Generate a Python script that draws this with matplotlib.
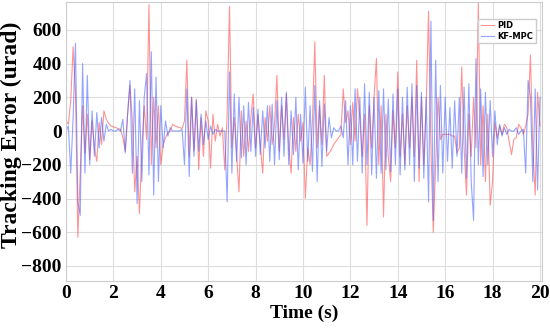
import numpy as np
import matplotlib
matplotlib.use("Agg")
import matplotlib.pyplot as plt
from matplotlib import rcParams

rcParams['font.family'] = 'serif'
rcParams['font.serif'] = ['Liberation Serif', 'DejaVu Serif']

# sampled every 0.1 s, 0..20 s
time_s = np.round(np.arange(0, 20.05, 0.1), 1)

pid = [
    60, 40, 180, 500, 230, -630, -250, 150, -130, 100,
    -170, 60, -100, -180, 50, -80, 120, 70, 45, 30,
    25, 20, 15, 10, -40, -120, 100, 270, 60, -360,
    -150, -490, -100, 150, -50, 750, -200, 200, -100, 150,
    -200, -80, -40, -10, 0, 40, 30, 25, 20, 15,
    60, 420, -150, 200, -120, 190, -230, 80, -150, 120,
    60, -220, 100, -60, 40, -30, 20, -230, 100, 740,
    -100, 80, -150, -360, 120, -150, 60, -120, 80, 220,
    -100, 100, -80, -250, 80, -60, 150, -80, 40, 330,
    -120, 150, -50, 220, -100, -250, 80, -120, 100, -60,
    50, -400, -100, -200, 60, 530, -100, 150, -80, 330,
    -150, -130, -110, -80, -60, -40, -20, 250, 50, 120,
    -80, 170, -60, 250, 80, -150, 100, -560, 150, -100,
    200, 430, -200, 150, -510, 100, -150, -300, 120, -100,
    350, -150, 100, -200, 150, -100, 200, -150, 420, -300,
    200, -200, 150, 710, -100, -600, -200, 200, -50, -20,
    -20, -20, -20, -30, -30, -130, -100, 380, -100, -380,
    100, -150, 200, -100, 760, -200, 150, -300, 100, -440,
    -300, 50, -40, 30, -20, 40, 20, -60, -140, -50,
    -40, 40, 20, -20, 30, 100, 450, -100, -380, 230,
    30,
]

kf_mpc = [
    0, 30, -250, 80, 520, -420, -500, 400, -250, 330,
    -200, 120, -150, 110, -100, 80, -60, 40, 0, 10,
    0, 0, 10, 0, 70, -130, 100, 300, -250, 250,
    -430, 180, -300, 200, 340, -260, 470, -380, 320, -300,
    150, -100, 60, -30, 20, 0, 0, 0, 0, 10,
    -200, 250, -270, 200, -150, 180, -120, 100, -80, 60,
    -50, 30, -20, 10, 0, 0, 0, 0, -420, 350,
    -250, 220, -180, 200, -160, 150, -200, 170, -120, 140,
    -150, 130, -140, 120, -100, 150, -180, 160, -200, 180,
    -170, 200, -150, 230, -200, 120, -140, 200, -230, 100,
    -190, 260, -180, 150, -240, 270, -300, 180, -210, 160,
    -120, 80, -40, 20, 0, 0, 30, -40, 180, -200,
    150, -200, 250, -180, 200, -250, 280, -200, 230, -260,
    200, -280, 240, -250, 250, -230, 190, -240, 220, -200,
    250, -260, 200, -230, 260, -200, 280, -300, 270, -220,
    230, -280, 200, -420, 650, -530, 420, -300, 270, -250,
    200, -180, 140, -220, 180, -150, 200, -250, 260, -280,
    280, -300, -530, 430, -200, 250, -270, 230, -200, 180,
    -150, 120, -80, 40, -30, 20, -20, 10, 0, 0,
    20, -20, 0, 10, -250, 300, 200, -300, 250, -350,
    200,
]

fig = plt.figure(figsize=(5.5, 3.3), dpi=100)
ax = fig.add_axes([0.12, 0.148, 0.866, 0.846])

ax.plot(time_s, pid, color='#ff3b3b', alpha=0.55, linewidth=0.8, label='PID')
ax.plot(time_s, kf_mpc, color='#3b5bff', alpha=0.55, linewidth=0.8, label='KF-MPC')

ax.set_xlim(0, 20.1)
ax.set_ylim(-890, 765)
ax.set_xticks(np.arange(0, 21, 2))
ax.set_yticks(np.arange(-800, 601, 200))
ax.grid(True, color='#dddddd', linewidth=0.8)
ax.set_axisbelow(True)
for s in ax.spines.values():
    s.set_color('#cccccc')

ax.tick_params(axis='both', which='major', labelsize=14, length=0, pad=3)
for lbl in ax.get_xticklabels() + ax.get_yticklabels():
    lbl.set_fontweight('bold')
ax.set_xlabel('Time (s)', fontsize=14, fontweight='bold', labelpad=2)
ylab = ax.set_ylabel('Tracking Error (urad)', fontsize=17, fontweight='bold')
ylab.set_verticalalignment('center')
ax.yaxis.set_label_coords(-0.114, 0.523)

leg = ax.legend(loc='upper right', bbox_to_anchor=(0.995, 0.955),
                prop={'family': 'DejaVu Sans', 'weight': 'bold', 'size': 6},
                handlelength=1.6, handletextpad=0.4, fancybox=False, framealpha=1,
                edgecolor='#cccccc', borderpad=0.3, labelspacing=0.2)

fig.savefig('out.png', dpi=100)
plt.close(fig)
